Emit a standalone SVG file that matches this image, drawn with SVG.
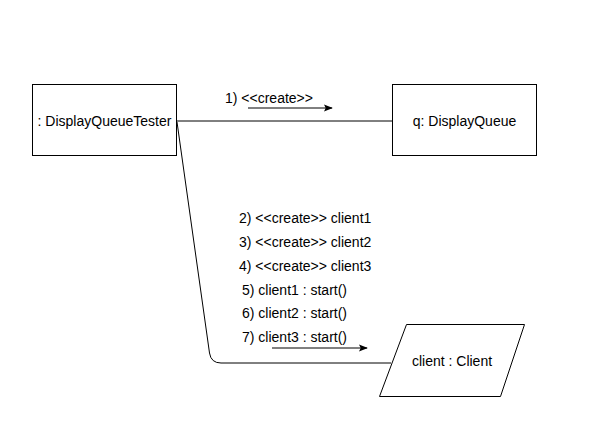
<svg xmlns="http://www.w3.org/2000/svg" width="589" height="434" viewBox="0 0 589 434">
<style>
.n{fill:#fff;stroke:#000;stroke-width:1}
.t{font-family:"Liberation Sans",Arial,sans-serif;font-size:14px;fill:#000}
.c{fill:none;stroke:#000;stroke-width:1}
</style>
<defs>
<marker id="ah" viewBox="0 0 10 10" refX="9" refY="5" markerWidth="9" markerHeight="9" markerUnits="userSpaceOnUse" orient="auto">
<path d="M0,1 L10,5 L0,9 L2,5 Z" fill="#000"/>
</marker>
</defs>
<rect width="589" height="434" fill="#fff"/>
<g id="connectors">
<path class="c" d="M176,121 H392"/>
<path class="c" d="M177,122 L209.5,353 Q211,363 221,363 H391"/>
<path class="c" d="M248,108 H332" marker-end="url(#ah)"/>
<path class="c" d="M272,348 H367" marker-end="url(#ah)"/>
<text class="t" x="225" y="103">1) &lt;&lt;create&gt;&gt;</text>
<text class="t" x="239" y="223">2) &lt;&lt;create&gt;&gt; client1</text>
<text class="t" x="239" y="247">3) &lt;&lt;create&gt;&gt; client2</text>
<text class="t" x="239" y="271">4) &lt;&lt;create&gt;&gt; client3</text>
<text class="t" x="242" y="295">5) client1  : start()</text>
<text class="t" x="242" y="318">6) client2 : start()</text>
<text class="t" x="242" y="342">7) client3 : start()</text>
</g>
<g id="tester">
<rect class="n" x="32.5" y="84.5" width="144" height="71"/>
<text class="t" x="104.5" y="126" text-anchor="middle">: DisplayQueueTester</text>
</g>
<g id="queue">
<rect class="n" x="392.5" y="84.5" width="144" height="71"/>
<text class="t" x="464.5" y="126" text-anchor="middle">q: DisplayQueue</text>
</g>
<g id="client">
<polygon class="n" points="406.5,324.5 524.5,324.5 500.5,396.5 379.5,396.5"/>
<text class="t" x="452" y="366" text-anchor="middle">client : Client</text>
</g>
</svg>
